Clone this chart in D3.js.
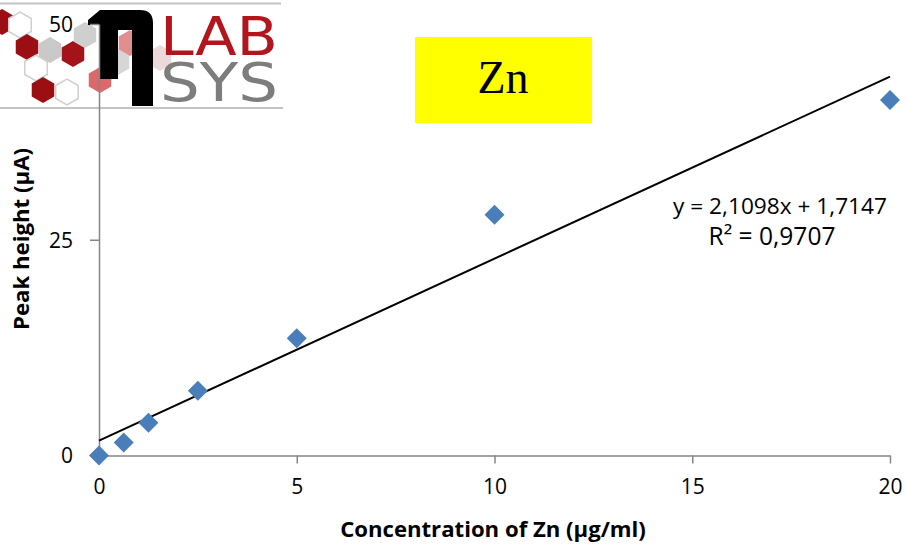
<!DOCTYPE html>
<html><head><meta charset="utf-8">
<script src="https://cdn.jsdelivr.net/npm/d3@7"></script>
<style>body{margin:0;background:#fff}svg{display:block}</style>
</head><body>
<svg id="c" width="906" height="545"></svg>
<script>
// ---- data ----
const concentrations = [0, 0.625, 1.25, 2.5, 5, 10, 20];
const peakHeights = [0, 1.5, 3.8, 7.5, 13.6, 27.9, 41.2];
const xTicks = [0, 5, 10, 15, 20];
const yTicks = [0, 25, 50];
const trendSlope = 2.1098, trendIntercept = 1.7147;
const equationLabel = "y = 2,1098x + 1,7147";
const r2Label = "R\u00B2 = 0,9707";
const titleLabel = "Zn";
const xTitle = "Concentration of Zn (\u00B5g/ml)";
const yTitle = "Peak height (\u00B5A)";

const svg = d3.select("#c");
const x = d3.scaleLinear().domain([0, 20]).range([99, 890]);
const y = d3.scaleLinear().domain([0, 50]).range([455.5, 24]);
const axisCol = "#868686";
const font = "'Open Sans', sans-serif";

function fit(sel, w) {
  const n = sel.node(); let fs = parseFloat(sel.attr("font-size"));
  const cur = n.getComputedTextLength(); sel.attr("font-size", fs * w / cur);
}

// ---- logo (decoration) ----
const logo = svg.append("g");
const hexes = [
  [2, 22, "#9b0f14", null], [20, 25, "#fff", "#cfcfcf"], [27, 47, "#9b0f14", null],
  [50, 50, "#c9c9c9", null], [73, 54, "#a3141a", null], [85, 35, "#cfcfcf", null],
  [36, 68, "#fff", "#cfcfcf"], [43, 90, "#9b0f14", null], [67, 92, "#fff", "#cfcfcf"],
  [100, 80, "#d9696b", null], [118, 62, "#d6d6d6", null], [130, 43, "#e08f90", null],
  [160, 58, "#ecdada", null]
];
const hexPath = (cx, cy, r) => d3.range(6).map(i => {
  const a = Math.PI / 3 * i + Math.PI / 6; return [cx + r * Math.cos(a), cy + r * Math.sin(a)];
});
hexes.forEach(([cx, cy, f, s]) => {
  logo.append("polygon").attr("points", hexPath(cx, cy, 13).map(p => p.join(",")).join(" "))
    .attr("fill", f).attr("stroke", s || "none").attr("stroke-width", 1.5);
});
logo.append("path")
  .attr("d", "M88,20 L100,10 L140,10 Q153,10 153,23 L153,106 L132,106 L132,30 L118,30 L118,79 L100,79 L100,25 L88,25 Z")
  .attr("fill", "#000");
const lt = logo.append("text").attr("font-family", "'DejaVu Sans Condensed', sans-serif");
lt.append("tspan").attr("x", 160).attr("y", 55).attr("font-size", 54).attr("fill", "#b3151c")
  .attr("textLength", 118).attr("lengthAdjust", "spacingAndGlyphs").text("LAB");
lt.append("tspan").attr("x", 160).attr("y", 101).attr("font-size", 53).attr("fill", "#7d7d7d")
  .attr("textLength", 118).attr("lengthAdjust", "spacingAndGlyphs").text("SYS");
logo.append("line").attr("x1", 0).attr("x2", 281).attr("y1", 3.5).attr("y2", 3.5).attr("stroke", "#c4c4c4").attr("stroke-width", 2);
logo.append("line").attr("x1", 0).attr("x2", 283).attr("y1", 108).attr("y2", 108).attr("stroke", "#c4c4c4").attr("stroke-width", 2);

// ---- title box ----
svg.append("rect").attr("x", 415).attr("y", 37).attr("width", 177).attr("height", 86).attr("fill", "#ffff00");
svg.append("text").attr("x", 503).attr("y", 93).attr("text-anchor", "middle")
  .attr("font-family", "'Liberation Serif', 'Times New Roman', serif").attr("font-size", 46).attr("fill", "#000").text(titleLabel);

// ---- axes ----
const xAxis = svg.append("g").attr("transform", `translate(0,${y(0)})`)
  .call(d3.axisBottom(x).tickValues(xTicks).tickSize(8).tickPadding(16).tickSizeOuter(0));
const yAxis = svg.append("g").attr("transform", `translate(${x(0)},0)`)
  .call(d3.axisLeft(y).tickValues(yTicks).tickSize(9).tickPadding(17).tickSizeOuter(0));
[xAxis, yAxis].forEach(g => {
  g.select(".domain").attr("stroke", axisCol).attr("stroke-width", 1.5);
  g.selectAll(".tick line").attr("stroke", axisCol).attr("stroke-width", 1.5);
  g.selectAll(".tick text").attr("font-family", font).attr("font-size", 21).attr("fill", "#000");
});
yAxis.selectAll(".tick text").attr("dy", "0.35em");

// ---- trend line ----
svg.append("line")
  .attr("x1", x(0)).attr("y1", y(trendIntercept))
  .attr("x2", x(20)).attr("y2", y(trendSlope * 20 + trendIntercept))
  .attr("stroke", "#000").attr("stroke-width", 2);

// ---- points ----
const sym = d3.symbol().type(d3.symbolDiamond2).size(255);
svg.append("g").selectAll("path").data(concentrations.map((c, i) => [c, peakHeights[i]])).join("path")
  .attr("d", sym).attr("transform", d => `translate(${x(d[0])},${y(d[1])})`)
  .attr("fill", "#4a7ebb");

// ---- equation ----
const eq = svg.append("text").attr("x", 780).attr("y", 214).attr("text-anchor", "middle")
  .attr("font-family", font).attr("font-size", 20).attr("fill", "#000").text(equationLabel);
fit(eq, 214);
const r2 = svg.append("text").attr("x", 772).attr("y", 245).attr("text-anchor", "middle")
  .attr("font-family", font).attr("font-size", 20).attr("fill", "#000").text(r2Label);
fit(r2, 127);

// ---- axis titles ----
const xt = svg.append("text").attr("x", 493).attr("y", 537).attr("text-anchor", "middle")
  .attr("font-family", font).attr("font-weight", "bold").attr("font-size", 18).attr("fill", "#000").text(xTitle);
fit(xt, 306);
const yt = svg.append("text").attr("transform", "translate(29,239) rotate(-90)").attr("text-anchor", "middle")
  .attr("font-family", font).attr("font-weight", "bold").attr("font-size", 18).attr("fill", "#000").text(yTitle);
fit(yt, 182);
</script>
</body></html>
